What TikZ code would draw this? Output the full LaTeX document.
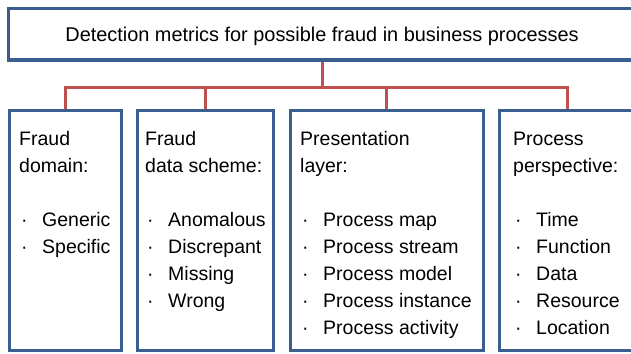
\documentclass[tikz,border=0pt]{standalone}
\usepackage{fontspec}
\setmainfont{Liberation Sans}
\definecolor{boxblue}{HTML}{3A5F8E}
\definecolor{linkred}{HTML}{C0504D}
\newcommand\itm[1]{\hspace*{2pt}\makebox[21pt][l]{·}#1}
\begin{document}
\begin{tikzpicture}[x=1pt,y=-1pt,
  box/.style={draw=boxblue,line width=3pt,inner sep=0pt,fill=white},
  link/.style={draw=linkred,line width=3pt},
  txt/.style={anchor=base west,inner sep=0pt,align=left,font=\fontsize{19.5}{27}\selectfont}]
\useasboundingbox (0,0) rectangle (631,353);
\clip (0,0) rectangle (631,353);
\node[box,minimum width=628pt,minimum height=51pt,text height=14pt,text depth=0pt,font=\fontsize{19.9}{24}\selectfont] (top) at (322,34.5) {Detection metrics for possible fraud in business processes};
\node[box,minimum width=112pt,minimum height=240pt] (b1) at (65,230) {};
\node[box,minimum width=136pt,minimum height=240pt] (b2) at (205,230) {};
\node[box,minimum width=193pt,minimum height=240pt] (b3) at (386.5,230) {};
\node[box,minimum width=136pt,minimum height=240pt] (b4) at (567,230) {};
\coordinate (j) at (322,87);
\draw[link] (b1.north) |- (j) -| (b4.north);
\draw[link] (top.south) -- (j);
\draw[link] (b2.north) -- (b2.north |- j);
\draw[link] (b3.north) -- (b3.north |- j);
\node[txt] (t1) at (19,253) {Fraud\\domain:\\[27pt]\itm{Generic}\\\itm{Specific}};
\node[txt] (t2) at (145,307) {Fraud\\data scheme:\\[27pt]\itm{Anomalous}\\\itm{Discrepant}\\\itm{Missing}\\\itm{Wrong}};
\node[txt] (t3) at (300,334) {Presentation\\layer:\\[27pt]\itm{Process map}\\\itm{Process stream}\\\itm{Process model}\\\itm{Process instance}\\\itm{Process activity}};
\node[txt] (t4) at (513,334) {Process\\perspective:\\[27pt]\itm{Time}\\\itm{Function}\\\itm{Data}\\\itm{Resource}\\\itm{Location}};
\end{tikzpicture}
\end{document}
